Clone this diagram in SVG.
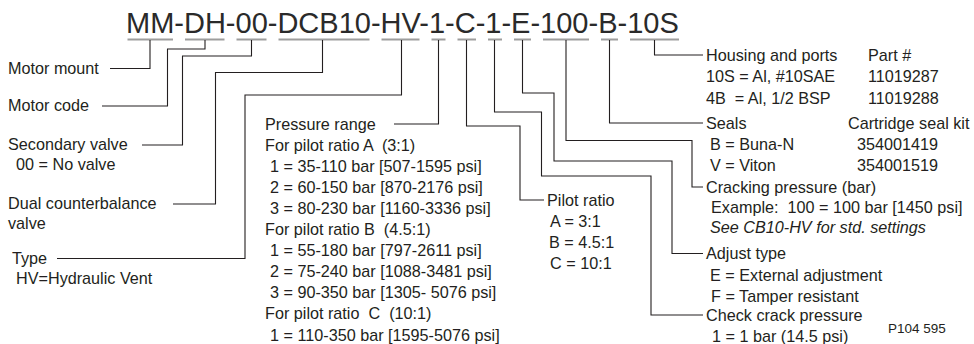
<svg xmlns="http://www.w3.org/2000/svg" width="974" height="344" viewBox="0 0 974 344">
<style>
text{font-family:"Liberation Sans",Arial,sans-serif;font-size:16.2px;fill:#231f20}
.title{font-size:29px;fill:#2a2a2a}
.ul{stroke:#9d9d9d;stroke-width:2;fill:none}
.c{stroke:#231f20;stroke-width:1.1;fill:none}
.it{font-style:italic}
.small{font-size:13.5px}
</style>
<rect width="974" height="344" fill="#ffffff"/>
<g id="code">
<text class="title" x="126" y="33">MM-DH-00-DCB10-HV-1-C-1-E-100-B-10S</text>
<path class="ul" d="M127.5 39.5H173M185 39.5H224.5M236.5 39.5H266.5M278.5 39.5H369.5M381.5 39.5H419.5M431.5 39.5H445.5M457.5 39.5H476M488 39.5H502M514 39.5H531M543 39.5H589M601 39.5H618M630 39.5H679"/>
</g>
<g id="connectors">
<polyline class="c" points="150,40 150,68.5 110,68.5"/>
<polyline class="c" points="205,40 205,49 167.5,49 167.5,106 102,106"/>
<polyline class="c" points="251.5,40 251.5,56 182.5,56 182.5,145 142,145"/>
<polyline class="c" points="322.5,40 322.5,72.5 215.5,72.5 215.5,204 173,204"/>
<polyline class="c" points="401.5,40 401.5,95 245,95 245,258.5 57,258.5"/>
<polyline class="c" points="438.5,40 438.5,124 394,124"/>
<polyline class="c" points="466.5,40 466.5,126 520,126 520,200 544,200"/>
<polyline class="c" points="494.5,40 494.5,112 541.5,112 541.5,176 651,176 651,315 703,315"/>
<polyline class="c" points="522.5,40 522.5,93 554,93 554,161 672,161 672,253.5 703,253.5"/>
<polyline class="c" points="566,40 566,140.5 692,140.5 692,187 703,187"/>
<polyline class="c" points="609.5,40 609.5,123 703,123"/>
<polyline class="c" points="654.5,40 654.5,55 703,55"/>
</g>
<g id="motor-mount"><text x="8" y="73.5">Motor mount</text></g>
<g id="motor-code"><text x="8" y="111">Motor code</text></g>
<g id="secondary-valve"><text x="8" y="150">Secondary valve</text><text x="16" y="170">00 = No valve</text></g>
<g id="dual-counterbalance"><text x="8" y="209">Dual counterbalance</text><text x="8" y="228.5">valve</text></g>
<g id="type"><text x="12" y="263.5">Type</text><text x="16" y="283.5">HV=Hydraulic Vent</text></g>
<g id="pressure-range">
<text x="265" y="129.5">Pressure range</text>
<text x="265" y="150.6">For pilot ratio A &#160;(3:1)</text>
<text x="270" y="171.7">1 = 35-110 bar [507-1595 psi]</text>
<text x="270" y="192.8">2 = 60-150 bar [870-2176 psi]</text>
<text x="270" y="213.9">3 = 80-230 bar [1160-3336 psi]</text>
<text x="265" y="235">For pilot ratio B &#160;(4.5:1)</text>
<text x="270" y="256.1">1 = 55-180 bar [797-2611 psi]</text>
<text x="270" y="277.2">2 = 75-240 bar [1088-3481 psi]</text>
<text x="270" y="298.3">3 = 90-350 bar [1305- 5076 psi]</text>
<text x="265" y="319.4">For pilot ratio &#160;C &#160;(10:1)</text>
<text x="270" y="340.5">1 = 110-350 bar [1595-5076 psi]</text>
</g>
<g id="pilot-ratio">
<text x="547" y="206">Pilot ratio</text>
<text x="550" y="227">A = 3:1</text>
<text x="549" y="248">B = 4.5:1</text>
<text x="550" y="269">C = 10:1</text>
</g>
<g id="housing">
<text x="706" y="60.5">Housing and ports</text>
<text x="706" y="82">10S = Al, #10SAE</text>
<text x="706" y="103.5">4B &#160;= Al, 1/2 BSP</text>
<text x="868" y="60.5">Part #</text>
<text x="868" y="82">11019287</text>
<text x="868" y="103.5">11019288</text>
</g>
<g id="seals">
<text x="706" y="128.5">Seals</text>
<text x="710" y="150">B = Buna-N</text>
<text x="710" y="170.5">V = Viton</text>
<text x="848" y="128.5">Cartridge seal kit</text>
<text x="857" y="150">354001419</text>
<text x="857" y="170.5">354001519</text>
</g>
<g id="cracking-pressure">
<text x="706" y="192.5">Cracking pressure (bar)</text>
<text x="711" y="213">Example: &#160;100 = 100 bar [1450 psi]</text>
<text class="it" x="710" y="233">See CB10-HV for std. settings</text>
</g>
<g id="adjust-type">
<text x="706" y="259">Adjust type</text>
<text x="710" y="280.5">E = External adjustment</text>
<text x="711" y="302">F = Tamper resistant</text>
</g>
<g id="check-crack">
<text x="706" y="320.5">Check crack pressure</text>
<text x="712" y="342">1 = 1 bar (14.5 psi)</text>
</g>
<g id="figure-number"><text class="small" x="888" y="333">P104 595</text></g>
</svg>
